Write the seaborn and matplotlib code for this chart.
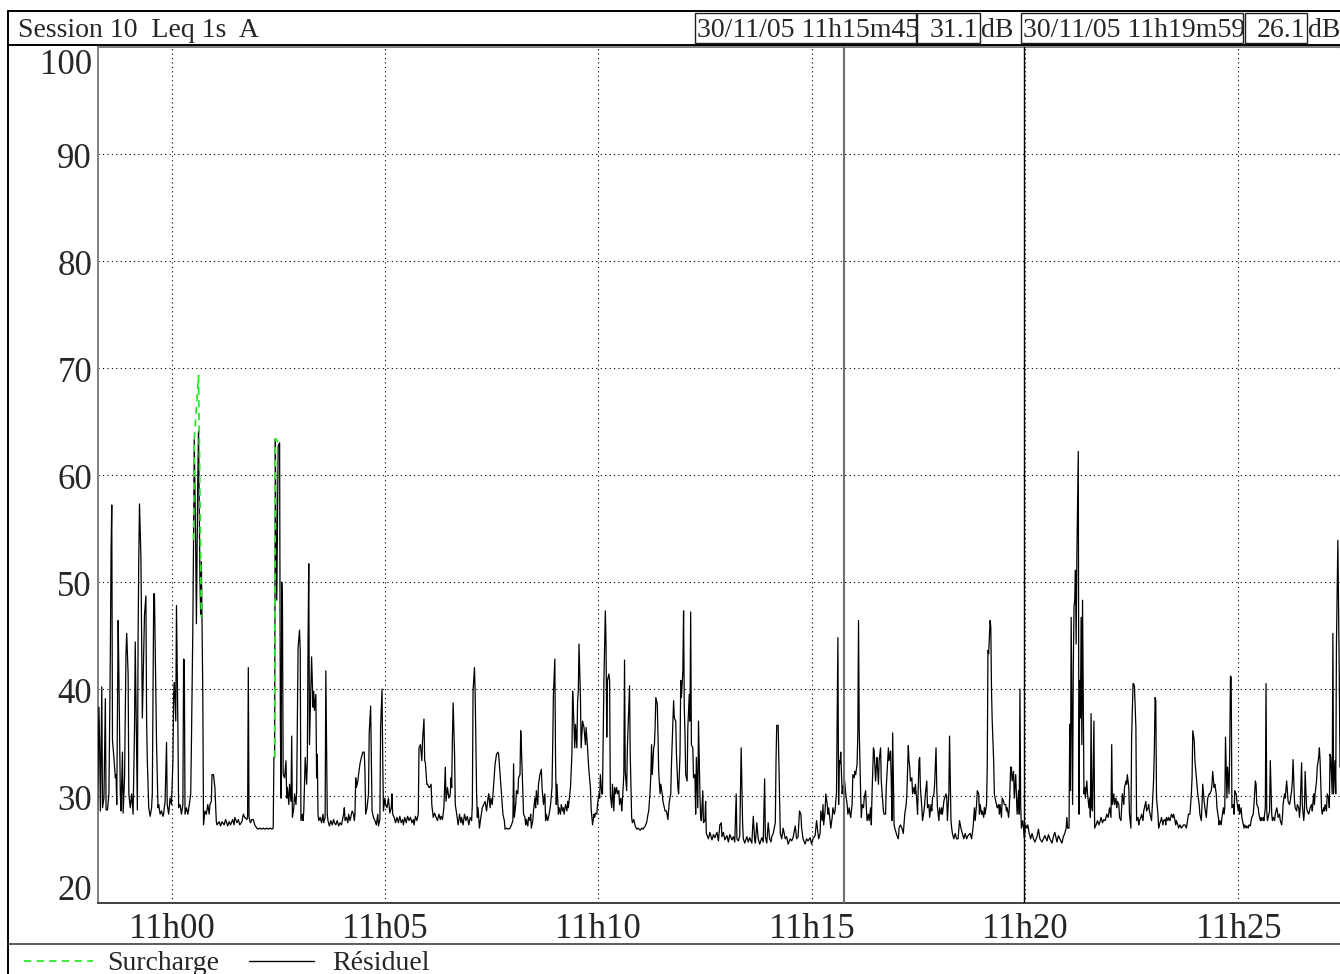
import matplotlib
matplotlib.use("Agg")
import matplotlib.pyplot as plt
import matplotlib.transforms as mtransforms
from matplotlib.lines import Line2D
from matplotlib.patches import Rectangle
import pandas as pd
import seaborn as sns

# ---------------- data (time in seconds after 11h00m00, level in dB(A)) ----------------
res_t = [
    -104, -102, -101, -100, -98, -97, -95, -93, -92, -90, -88, -86, -85, -84, -83, -81, -79, -78, -77, -75,
    -74, -72, -71, -69, -68, -66, -64, -63, -61, -60, -58, -56, -54, -52, -51, -49, -48, -47, -46, -45,
    -43, -42, -41, -39, -38, -36, -35, -34, -32, -30, -28, -27, -25, -24, -22, -21, -19, -18, -16, -14,
    -12, -11, -9, -7, -6, -4, -2, 0, 2, 3, 4, 6, 7, 9, 10, 12, 14, 16, 17, 18,
    19, 21, 23, 25, 27, 28, 30, 31, 32, 34, 35, 37, 38, 40, 41, 42, 44, 45, 47, 49,
    51, 53, 54, 56, 57, 59, 61, 63, 64, 67, 69, 71, 74, 76, 79, 81, 83, 86, 88,
    89, 92, 94, 96, 99, 101, 103, 106, 107, 108, 109, 111, 113, 115, 117, 120, 122, 124, 127, 129,
    131, 134, 136, 139, 141, 143, 144, 145, 146, 147, 148, 149, 150, 152, 153, 154, 155, 156, 157, 159,
    161, 162, 163, 165, 166, 168, 169, 170, 172, 173, 175, 176, 177, 178, 180, 181, 182, 184, 185, 186,
    188, 190, 191, 192, 193, 194, 196, 197, 199, 200, 201, 203, 204, 205, 206, 207, 209, 211, 213, 214,
    216, 217, 219, 220, 222, 224, 226, 228, 229, 231, 233, 235, 237, 239, 242, 243, 244, 246, 248, 249,
    251, 252, 254, 256, 257, 258, 259, 260, 262, 263, 265, 266, 267, 269, 271, 272, 273, 275, 277, 278,
    280, 282, 284, 286, 288, 290, 291, 293, 294, 296, 297, 298, 300, 301, 303, 305, 307, 309, 310, 311,
    313, 315, 317, 319, 321, 323, 325, 326, 328, 330, 332, 334, 336, 338, 340, 341, 343, 345, 347, 348,
    350, 352, 353, 355, 356, 357, 359, 360, 362, 363, 365, 366, 368, 370, 372, 374, 376, 378, 379, 381,
    383, 385, 386, 388, 390, 392, 393, 394, 395, 396, 398, 399, 401, 403, 405, 407, 408, 410, 412, 414,
    416, 418, 420, 422, 423, 424, 426, 427, 429, 430, 431, 433, 435, 437, 439, 441, 443, 445, 446, 448,
    449, 451, 453, 455, 457, 459, 460, 462, 464, 466, 468,
    469, 471, 474, 476, 478, 480, 481, 482, 484, 485, 487, 488, 490, 491, 492, 494, 495, 497, 498, 499,
    501, 502, 504, 505, 506, 508, 509, 511, 512, 513, 515, 516, 518, 520, 521, 523, 525, 526, 527, 529,
    531, 533, 535, 536, 537, 539, 540, 541, 542, 544, 545, 547, 548, 550, 551, 552, 554, 556, 557, 558,
    560, 561, 563, 564, 565, 567, 568, 570, 571, 572, 573, 575, 576, 578, 579, 580, 582, 583, 585, 586,
    587, 589, 590, 592, 594, 595, 596, 598, 599, 601, 602, 603, 605, 606, 608, 609, 610, 611, 612, 613,
    615, 616, 617, 619, 620, 622, 623, 624, 626, 627, 629, 630, 632, 633, 634, 636, 637, 638, 640, 641,
    642, 644, 645, 647, 648, 650, 652, 654, 656,
    659, 661, 663, 666, 668, 670, 671, 673, 674, 675, 676, 678, 679, 680, 681, 683, 684, 685, 687, 688,
    690, 691, 692, 694, 696, 698, 699, 700, 702, 703, 705, 706, 707, 709, 710, 712, 713, 715, 716, 717,
    719, 720, 721, 722, 723, 725, 726, 728, 729, 730, 731, 733, 734, 736, 737, 738, 740, 741, 743, 744,
    745, 747, 748, 750, 751, 752, 755, 757, 760, 762, 764, 767, 769, 771, 773, 774, 776, 778, 781, 783,
    785, 788, 790, 792, 794, 795, 797, 799, 801, 803, 804, 806, 809, 811, 813, 816, 818, 820, 821, 823,
    825, 827, 830, 832, 834, 835, 837, 839, 841, 843,
    844, 846, 849, 850, 851, 853, 854, 856, 858, 860, 863, 865, 867, 870, 872, 874, 877, 879, 881, 883,
    885, 886, 888, 891, 893, 895, 898, 900, 902, 905, 907, 909, 910, 912, 913, 915, 916, 917, 919, 920,
    922, 923, 924, 926, 927, 929, 930, 932, 933, 934, 935, 937, 938, 939, 940, 941, 943, 944, 945, 946,
    948, 950, 951, 953, 954, 955, 957, 958, 960, 961, 962, 964, 965, 966, 967, 969, 970, 971, 973, 974,
    976, 977, 978, 980, 981, 983, 984, 985, 987, 988, 990, 991, 992, 994, 995, 997, 998, 999, 1001, 1002,
    1004, 1005, 1007, 1008, 1009, 1011, 1012, 1013, 1014, 1016, 1017, 1020, 1022, 1023, 1025, 1027, 1029, 1031, 1033, 1034,
    1036, 1037,
    1038, 1039, 1041, 1042, 1044, 1045, 1046, 1048, 1049, 1051, 1052, 1053, 1055, 1056, 1058, 1059, 1060, 1062, 1063, 1065,
    1066, 1068, 1069, 1070, 1072, 1073, 1075, 1076, 1077, 1079, 1080, 1082, 1083, 1084, 1086, 1087, 1089, 1090, 1091, 1093,
    1094, 1096, 1097, 1098, 1100, 1102, 1104, 1106, 1108, 1110, 1112, 1114, 1116, 1118, 1120, 1123, 1125, 1127, 1129, 1130,
    1132, 1133, 1135, 1136, 1137, 1139, 1140, 1142, 1143, 1144, 1146, 1147, 1148, 1149, 1150, 1151, 1152, 1153, 1154, 1156,
    1157, 1158, 1160, 1161, 1163, 1164, 1165, 1167, 1168, 1170, 1171, 1173, 1174, 1175, 1177, 1178, 1180, 1181, 1182, 1184,
    1185, 1187, 1188, 1189, 1191, 1192, 1193, 1194, 1195, 1197, 1198, 1199, 1201, 1203, 1204, 1206, 1208, 1210, 1212, 1214,
    1217, 1219, 1221, 1224, 1226,
    1228, 1231, 1233, 1235, 1238, 1240, 1242, 1245, 1247, 1249, 1252, 1254, 1256, 1258, 1259, 1260, 1262, 1263, 1264, 1265,
    1267, 1268, 1269, 1270, 1271, 1272, 1273, 1275, 1276, 1277, 1278, 1279, 1280, 1281, 1283, 1284, 1285, 1287, 1288, 1290,
    1291, 1292, 1293, 1294, 1295, 1297, 1298, 1300, 1302, 1304, 1306, 1307, 1309, 1311, 1313, 1315, 1317, 1319, 1321, 1322,
    1323, 1325, 1326, 1328, 1329, 1330, 1332, 1333, 1335, 1336, 1337, 1339, 1340, 1342, 1343, 1344, 1346, 1347, 1349, 1350,
    1352, 1353, 1354, 1356, 1357, 1359, 1360, 1361, 1363, 1364, 1366, 1367, 1368, 1370, 1371, 1373, 1374, 1375, 1377, 1378,
    1380, 1381, 1382, 1383, 1384, 1385, 1387, 1388, 1389, 1391, 1392, 1394, 1395, 1397, 1398, 1399, 1401, 1402, 1404, 1405,
    1406, 1408, 1409, 1411, 1412, 1413, 1415, 1416, 1418, 1420, 1423, 1425, 1427, 1430,
    1432, 1434, 1435, 1436, 1438, 1439, 1441, 1442, 1443, 1445, 1446, 1448, 1449, 1450, 1452, 1453, 1455, 1456, 1457, 1459,
    1460, 1462, 1463, 1464, 1466, 1467, 1469, 1470, 1472, 1473, 1474, 1476, 1477, 1479, 1480, 1481, 1482, 1484, 1485, 1487,
    1488, 1489, 1490, 1491, 1493, 1494, 1495, 1497, 1498, 1500, 1501, 1502, 1504, 1505, 1507, 1508, 1509, 1511, 1512, 1514,
    1515, 1517, 1518, 1519, 1521, 1522, 1524, 1525, 1526, 1528, 1529, 1531, 1532, 1533, 1535, 1536, 1538, 1539, 1540, 1541,
    1542, 1544, 1545, 1547, 1548, 1549, 1551, 1552, 1554, 1555, 1556, 1558, 1559, 1561, 1562, 1563, 1565, 1566, 1568, 1569,
    1570, 1572, 1573, 1575, 1576, 1577, 1579, 1580, 1582, 1583, 1585, 1586, 1587, 1589, 1590, 1592, 1593, 1594, 1596, 1597,
    1599, 1600, 1601, 1603, 1604, 1606, 1607, 1608, 1610, 1611, 1613, 1614, 1615, 1617, 1618, 1620, 1621, 1622, 1624, 1625,
    1627, 1628, 1629, 1630, 1632, 1633, 1634, 1636, 1637, 1638, 1640, 1641, 1642, 1643,
]
res_db = [
    28.6, 38.3, 34.5, 28.6, 40.2, 28.9, 29.8, 39.1, 28.7, 28.7, 30.2, 43.3, 52.8, 57.2, 35.2, 33.6, 31.7, 32.0, 29.2, 46.4,
    41.4, 30.2, 28.6, 34.1, 28.4, 31.7, 43.3, 45.2, 41.4, 30.2, 28.9, 30.2, 28.3, 36.4, 44.4, 34.2, 28.7, 44.5, 52.3, 57.3,
    52.3, 44.8, 37.3, 43.6, 46.9, 48.7, 37.0, 33.3, 28.9, 28.1, 28.9, 30.2, 48.9, 48.9, 39.5, 34.8, 28.9, 29.2, 28.3, 28.6,
    28.1, 28.4, 29.5, 35.0, 29.2, 28.3, 29.8, 29.2, 33.3, 39.5, 40.6, 37.0, 47.8, 36.4, 28.9, 29.2, 28.3, 29.2, 42.8, 42.7,
    28.3, 28.9, 28.3, 29.2, 30.2, 34.8, 45.8, 53.9, 63.3, 53.3, 46.1, 59.8, 64.1, 50.2, 47.0, 51.9, 39.5, 27.3, 28.6, 28.3,
    29.2, 28.3, 29.2, 29.5, 32.0, 32.0, 30.8, 27.6, 27.3, 27.6, 27.2, 27.6, 27.3, 27.8, 27.2, 27.6, 27.3, 27.8, 27.3,
    28.0, 27.5, 27.8, 27.3, 27.6, 28.3, 28.0, 27.8, 28.1, 42.0, 28.0, 27.5, 27.8, 27.8, 27.3, 27.0, 26.9, 27.0, 26.9, 27.0,
    26.9, 27.0, 26.9, 27.0, 26.9, 27.0, 33.6, 33.6, 63.4, 54.2, 48.3, 55.2, 62.7, 63.0, 37.3, 29.8, 50.0, 48.0, 32.0, 31.7,
    33.3, 29.8, 30.8, 29.2, 31.1, 29.5, 35.6, 28.0, 28.9, 30.2, 29.2, 30.5, 37.3, 43.9, 45.5, 43.6, 27.7, 28.3, 27.7, 28.6,
    33.6, 31.1, 33.3, 44.5, 51.7, 34.8, 40.2, 43.0, 38.3, 39.8, 38.0, 39.5, 31.7, 33.9, 28.3, 27.7, 28.0, 27.5, 28.3, 27.5,
    28.0, 41.7, 28.3, 27.7, 27.2, 27.7, 27.3, 27.8, 27.5, 27.3, 27.7, 27.2, 27.5, 27.3, 28.3, 28.9, 27.7, 28.0, 27.5, 28.3,
    27.7, 28.0, 28.6, 28.3, 27.7, 28.3, 31.7, 30.8, 31.4, 32.0, 33.0, 33.3, 33.6, 34.1, 34.1, 32.3, 28.3, 28.9, 30.2, 35.9,
    38.4, 28.6, 28.0, 27.7, 27.3, 28.3, 27.2, 27.8, 36.4, 40.0, 33.3, 28.6, 29.8, 29.2, 28.9, 29.8, 28.4, 28.9, 30.2, 28.3,
    28.0, 27.5, 28.0, 27.5, 28.1, 27.5, 27.8, 27.3, 28.0, 27.5, 28.1, 27.7, 28.0, 27.5, 27.8, 27.3, 28.1, 27.7, 28.3, 34.5,
    34.8, 33.3, 35.2, 37.2, 33.3, 33.1, 31.1, 31.1, 30.8, 30.8, 31.1, 29.2, 28.0, 28.4, 28.0, 27.7, 28.3, 27.8, 28.1, 27.8,
    28.9, 32.7, 29.5, 30.8, 29.8, 30.2, 31.7, 30.8, 35.5, 38.7, 33.9, 29.2, 28.3, 27.3, 28.3, 27.5, 28.0, 27.3, 28.3, 27.7,
    28.1, 27.3, 28.0, 27.7, 29.2, 39.8, 42.0, 39.5, 30.2, 28.0, 28.9, 27.0, 28.0, 28.9, 29.2, 29.5, 28.6, 29.8, 30.2, 28.9,
    29.8, 29.2, 31.1, 33.0, 33.9, 34.1, 33.9, 32.0, 30.2, 28.3, 27.7,
    26.9, 27.0, 26.9, 27.0, 27.3, 27.7, 33.0, 28.0, 29.2, 30.5, 30.2, 31.7, 32.0, 36.1, 34.5, 30.2, 28.3, 28.0, 27.3, 27.8,
    27.2, 28.0, 27.7, 28.3, 27.0, 27.7, 28.6, 29.8, 28.9, 30.5, 29.2, 31.1, 32.0, 32.5, 30.8, 29.2, 30.2, 27.7, 28.3, 27.7,
    28.3, 29.2, 30.8, 34.7, 39.5, 42.8, 33.3, 29.2, 31.1, 28.3, 28.9, 28.3, 29.2, 28.6, 28.9, 28.3, 29.2, 28.6, 29.5, 28.9,
    30.2, 30.8, 33.9, 39.8, 38.3, 34.5, 36.7, 34.5, 38.9, 39.8, 44.2, 39.2, 34.5, 37.0, 36.7, 36.4, 34.8, 36.4, 34.5, 33.3,
    32.3, 30.8, 28.9, 27.3, 28.3, 28.0, 28.4, 28.3, 29.2, 30.2, 29.8, 32.0, 30.2, 30.2, 40.8, 44.2, 47.3, 44.2, 35.5, 40.8,
    41.4, 40.8, 30.2, 28.9, 31.1, 28.6, 30.8, 30.2, 30.8, 30.2, 30.5, 29.2, 29.8, 28.6, 29.5, 32.0, 42.7, 32.3, 30.5, 34.5,
    36.4, 40.3, 33.9, 28.0, 27.5, 27.8, 27.2, 26.9, 27.0,
    26.8, 27.0, 26.9, 27.2, 27.5, 28.3, 28.6, 30.5, 32.0, 34.8, 32.0, 34.5, 34.8, 36.4, 39.2, 38.6, 35.8, 32.3, 30.2, 31.1,
    30.2, 29.5, 29.2, 28.6, 28.6, 27.8, 28.6, 29.5, 30.2, 33.0, 37.0, 38.9, 37.3, 37.0, 33.9, 30.8, 30.2, 33.9, 40.8, 39.2,
    41.7, 47.3, 38.3, 35.8, 32.0, 31.4, 36.4, 39.5, 37.0, 47.2, 34.8, 34.5, 31.7, 32.0, 28.3, 33.6, 28.9, 37.0, 30.2, 28.0,
    27.7, 30.5, 27.5, 27.7, 29.5, 26.5, 26.0, 26.6, 25.9, 26.4, 26.1, 26.6, 25.8, 27.3, 27.5, 26.2, 26.6, 25.9, 26.3, 25.7,
    26.4, 25.9, 26.2, 25.7, 30.2, 26.0, 25.8, 26.3, 34.5, 27.5, 26.0, 25.6, 26.2, 25.7, 26.1, 25.6, 28.1, 25.9, 25.6, 27.5,
    26.0, 25.5, 26.1, 25.7, 31.6, 26.2, 25.6, 27.5, 26.0, 25.7,
    26.2, 26.5, 27.5, 33.3, 36.6, 36.6, 33.3, 26.5, 26.0, 27.0, 26.0, 26.2, 25.5, 26.0, 25.8, 26.1, 27.2, 26.0, 26.2, 28.6,
    28.3, 27.0, 26.0, 25.5, 26.0, 25.8, 26.1, 25.5, 26.0, 26.3, 27.7, 26.5, 26.0, 26.5, 28.6, 27.7, 29.2, 27.3, 28.6, 30.2,
    29.2, 28.3, 28.9, 27.7, 27.0, 28.0, 28.9, 28.3, 28.6, 29.5, 30.2, 44.8, 29.2, 33.3, 33.0, 34.1, 30.2, 30.8, 31.1, 31.7,
    30.2, 29.2, 28.3, 28.9, 28.3, 28.0, 29.2, 32.0, 31.7, 32.3, 32.0, 33.0, 35.8, 46.4, 36.1, 30.2, 28.0, 29.2, 28.9, 29.8,
    30.5, 28.9, 27.7, 28.3, 27.7, 28.9, 27.3, 30.2, 34.5, 34.2, 31.4, 32.7, 33.6, 31.1, 33.3, 34.5, 31.4, 30.5, 28.6, 28.3,
    28.3, 30.8, 33.3, 34.5, 33.3, 34.2, 31.4, 27.7, 35.9, 27.3, 27.0, 26.3, 26.0, 27.0, 27.3, 27.0, 26.5, 28.3, 29.2, 30.2,
    34.7, 33.3,
    32.7, 31.4, 31.7, 30.2, 30.8, 30.2, 31.1, 29.5, 28.3, 33.3, 33.6, 30.8, 28.9, 27.7, 28.6, 29.2, 30.2, 31.4, 28.9, 29.2,
    28.0, 29.2, 28.6, 29.8, 30.2, 31.1, 34.5, 30.8, 28.9, 27.7, 28.9, 28.3, 28.9, 28.3, 29.5, 29.8, 30.2, 29.8, 27.7, 30.2,
    35.6, 27.7, 27.0, 26.5, 26.0, 26.5, 26.0, 26.0, 27.7, 27.0, 26.5, 26.0, 26.5, 26.0, 26.3, 26.5, 26.0, 27.0, 28.9, 27.7,
    29.2, 30.5, 30.2, 28.3, 29.2, 28.3, 28.6, 28.0, 28.9, 28.3, 29.2, 32.7, 43.6, 43.3, 44.8, 46.4, 45.8, 39.8, 37.0, 33.3,
    30.2, 29.8, 29.2, 28.9, 29.2, 28.3, 29.2, 28.0, 29.8, 29.5, 29.2, 29.2, 28.6, 28.9, 28.0, 28.9, 32.7, 32.7, 31.4, 32.3,
    29.8, 32.0, 30.2, 28.3, 30.5, 28.3, 40.0, 29.2, 27.0, 27.7, 27.0, 26.1, 27.3, 27.0, 27.3, 26.5, 26.0, 26.5, 26.0, 25.7,
    26.2, 26.9, 26.0, 25.7, 26.0,
    26.3, 25.8, 26.4, 26.0, 25.6, 26.2, 26.6, 25.7, 26.3, 26.0, 25.6, 26.2, 26.5, 27.0, 28.0, 27.0, 27.0, 36.7, 30.5, 46.7,
    29.2, 42.0, 47.7, 48.3, 51.1, 44.2, 52.3, 62.2, 28.3, 40.8, 37.3, 46.7, 34.8, 48.3, 30.2, 30.8, 29.8, 31.4, 30.2, 28.9,
    29.8, 28.0, 37.7, 28.9, 28.6, 37.0, 27.0, 27.3, 27.7, 27.3, 27.7, 28.0, 27.5, 27.8, 27.7, 28.3, 28.0, 28.9, 28.0, 34.8,
    29.2, 30.2, 29.2, 29.8, 28.9, 29.5, 29.2, 28.0, 27.7, 28.9, 30.2, 29.2, 30.8, 31.4, 31.1, 32.0, 30.8, 28.3, 27.0, 35.5,
    40.5, 40.5, 40.2, 36.4, 27.7, 28.0, 27.3, 27.7, 28.0, 28.3, 27.7, 28.6, 28.9, 29.5, 28.6, 28.9, 29.2, 28.6, 28.0, 27.7,
    30.2, 31.7, 34.5, 39.2, 38.9, 29.8, 28.3, 27.0, 27.3, 27.7, 28.0, 27.3, 27.7, 27.8, 27.3, 28.0, 27.7, 28.0, 27.7, 28.0,
    28.3, 28.0, 28.3, 27.7, 27.3, 27.7, 27.3, 27.0, 27.3, 27.0, 27.3, 27.3, 27.0, 28.3,
    28.3, 30.2, 31.7, 36.1, 35.2, 33.3, 31.7, 30.8, 30.2, 29.2, 28.3, 27.7, 29.2, 31.1, 29.5, 28.9, 28.0, 28.9, 29.8, 30.2,
    30.2, 30.5, 31.1, 32.3, 30.8, 31.1, 30.2, 28.9, 28.0, 27.3, 27.7, 27.3, 28.0, 28.9, 28.3, 28.9, 35.5, 29.8, 32.7, 30.2,
    34.8, 41.2, 41.1, 28.9, 29.2, 28.3, 30.5, 30.2, 29.5, 28.6, 29.2, 28.3, 28.9, 28.0, 27.3, 27.0, 27.3, 27.0, 27.2, 27.0,
    27.3, 27.2, 27.7, 28.0, 28.3, 29.2, 31.4, 31.1, 29.2, 28.9, 28.3, 27.7, 28.0, 27.7, 28.0, 27.7, 28.9, 40.5, 28.6, 27.7,
    28.0, 28.6, 33.3, 28.3, 27.7, 28.0, 27.7, 28.3, 28.9, 28.6, 28.0, 28.3, 27.7, 27.3, 28.0, 29.2, 30.2, 29.8, 31.4, 30.5,
    29.5, 29.2, 29.5, 30.5, 31.4, 33.4, 29.5, 28.9, 28.6, 29.2, 28.9, 28.0, 28.9, 33.1, 29.2, 27.7, 28.6, 32.3, 28.9, 28.6,
    28.3, 28.6, 28.9, 29.2, 28.6, 30.2, 29.2, 30.2, 31.4, 32.7, 33.6, 34.5, 33.3, 28.9, 28.3, 28.9, 28.6, 29.2, 28.6, 30.2,
    29.8, 28.9, 33.9, 33.6, 30.2, 45.2, 30.2, 33.3, 30.2, 44.2, 53.9, 47.3, 41.1, 32.7,
]

# overload ("Surcharge") segments
sur_t = [31, 32, 38, 42, 145, 146, 151]
sur_db = [53.9, 63.3, 69.3, 46.7, 33.6, 63.4, 63.0]
sur_seg = [1, 1, 1, 1, 2, 2, 2]

x_ticks = [0, 300, 600, 900, 1200, 1500]
x_labels = ["11h00", "11h05", "11h10", "11h15", "11h20", "11h25"]
y_ticks = [20, 30, 40, 50, 60, 70, 80, 90, 100]
y_labels = ["20", "30", "40", "50", "60", "70", "80", "90", "100"]

title_text = "Session 10  Leq 1s  A"
cursor_t = [945, 1199]
cursor_stamp = ["30/11/05 11h15m45", "30/11/05 11h19m59"]
cursor_val = ["31.1", "26.1"]
unit = "dB"
legend_labels = ["Surcharge", "Résiduel"]

# ---------------- figure ----------------
sns.set_style("white")
plt.rcParams["font.family"] = ["Liberation Serif", "DejaVu Serif"]

W, H = 1340, 974
fig = plt.figure(figsize=(W / 100, H / 100), dpi=100)


def fx(x):
    return x / W


def fy(y):
    return 1 - y / H


ax = fig.add_axes([fx(98), fy(903), fx(1340) - fx(98), fy(47) - fy(903)])

df_res = pd.DataFrame({"t": res_t, "db": res_db})
df_sur = pd.DataFrame({"t": sur_t, "db": sur_db, "seg": sur_seg})

sns.lineplot(data=df_res, x="t", y="db", ax=ax, color="black", lw=0.9,
             estimator=None, sort=False, zorder=3)
sns.lineplot(data=df_sur, x="t", y="db", units="seg", ax=ax, color="#2ee82e",
             lw=1.3, estimator=None, sort=False, linestyle=(0, (4, 3)), zorder=4)

ax.set_xlim(-103.35, 1643.0)
ax.set_ylim(20, 100)
ax.set_xlabel("")
ax.set_ylabel("")

# grid
ax.set_xticks(x_ticks)
ax.set_xticklabels(x_labels, fontsize=25)
ax.set_yticks(y_ticks)
ax.set_yticklabels([])
ax.grid(True, color="black", linestyle=(0, (1, 3)), lw=0.8)
ax.tick_params(axis="x", direction="out", length=4.5, width=1, color="#707070", pad=3)
ax.tick_params(axis="y", direction="out", length=3, width=1, color="#707070", pad=2)

for s in ["left", "top"]:
    ax.spines[s].set_color("#808080")
    ax.spines[s].set_linewidth(1.4)
ax.spines["bottom"].set_color("#404040")
ax.spines["bottom"].set_linewidth(1.4)
ax.spines["right"].set_visible(False)

# y tick labels with custom vertical placement
ytrans = ax.get_yaxis_transform()
for v, lab in zip(y_ticks, y_labels):
    if v == 100:
        dy = -27
    elif v == 20:
        dy = 3
    else:
        dy = -14
    off = mtransforms.ScaledTranslation(-6 / 100, dy / 100, fig.dpi_scale_trans)
    ax.text(0, v, lab, transform=ytrans + off, ha="right", va="baseline", fontsize=25)

# cursors
ax.axvline(cursor_t[0], color="#707070", lw=1.5, zorder=5)
ax.axvline(cursor_t[1], color="black", lw=1.0, zorder=5)

# ---------------- frame / header ----------------
lc = "black"
fig.add_artist(Line2D([fx(8), fx(8)], [fy(11), fy(974)], color=lc, lw=1.4))
fig.add_artist(Line2D([fx(8), fx(1340)], [fy(11), fy(11)], color=lc, lw=1.4))
fig.add_artist(Line2D([fx(8), fx(1340)], [fy(44.5), fy(44.5)], color=lc, lw=1.4))
fig.add_artist(Line2D([fx(8), fx(1340)], [fy(944), fy(944)], color="#404040", lw=1.2))

fig.text(fx(18), fy(37), title_text, fontsize=20, ha="left", va="baseline")

box_specs = [(694.5, 915.5), (917, 979.5), (1021, 1243), (1244.5, 1307)]
for (x0, x1) in box_specs:
    fig.add_artist(Rectangle((fx(x0), fy(43)), fx(x1) - fx(x0), fy(13) - fy(43),
                             fill=False, edgecolor="#202020", lw=1.0,
                             transform=fig.transFigure))

fig.text(fx(697), fy(37), cursor_stamp[0], fontsize=20, ha="left", va="baseline")
fig.text(fx(978), fy(37), cursor_val[0], fontsize=20, ha="right", va="baseline")
fig.text(fx(981), fy(37), unit, fontsize=20, ha="left", va="baseline")
fig.text(fx(1023), fy(37), cursor_stamp[1], fontsize=20, ha="left", va="baseline")
fig.text(fx(1305), fy(37), cursor_val[1], fontsize=20, ha="right", va="baseline")
fig.text(fx(1308), fy(37), unit, fontsize=20, ha="left", va="baseline")

# ---------------- legend ----------------
fig.add_artist(Line2D([fx(24), fx(93)], [fy(961), fy(961)], color="#2ee82e", lw=1.3,
                      linestyle=(0, (4, 3))))
fig.text(fx(107), fy(970), legend_labels[0], fontsize=20, ha="left", va="baseline")
fig.add_artist(Line2D([fx(249), fx(314)], [fy(961), fy(961)], color="black", lw=1.0))
fig.text(fx(332), fy(970), legend_labels[1], fontsize=20, ha="left", va="baseline")

fig.savefig("out.png", dpi=100)
